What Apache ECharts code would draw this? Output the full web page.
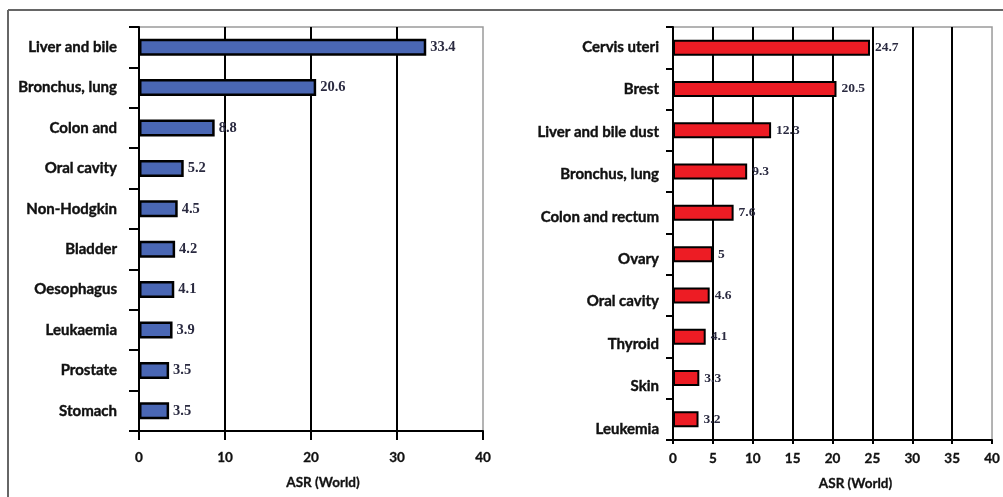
<!DOCTYPE html>
<html>
<head>
<meta charset="utf-8">
<script src="https://cdn.jsdelivr.net/npm/echarts@6/dist/echarts.min.js"></script>
<style>
html,body{margin:0;padding:0;background:#fff;}
#c{width:1003px;height:497px;}
</style>
</head>
<body>
<div id="c"></div>
<script>
const leftCategories = ['Liver and bile','Bronchus, lung','Colon and','Oral cavity','Non-Hodgkin','Bladder','Oesophagus','Leukaemia','Prostate','Stomach'];
const leftValues = [33.4,20.6,8.8,5.2,4.5,4.2,4.1,3.9,3.5,3.5];
const rightCategories = ['Cervis uteri','Brest','Liver and bile dust','Bronchus, lung','Colon and rectum','Ovary','Oral cavity','Thyroid','Skin','Leukemia'];
const rightValues = [24.7,20.5,12.3,9.3,7.6,5,4.6,4.1,3.3,3.2];
const leftAxis = {min:0, max:40, interval:10};
const rightAxis = {min:0, max:40, interval:5};
const axisTitle = 'ASR (World)';

const catFont = {fontFamily:'Lato', fontWeight:'bold', fontSize:15, color:'#111', textBorderColor:'#111', textBorderWidth:0.4};
const tickFont = {fontFamily:'Lato', fontWeight:'bold', fontSize:13.5, color:'#111', textBorderColor:'#111', textBorderWidth:0.3};
const valFont = {fontFamily:'Liberation Serif', fontWeight:'bold', color:'#2a2a40'};

const chart = echarts.init(document.getElementById('c'), null, {renderer:'canvas'});
chart.setOption({
  animation:false,
  backgroundColor:'#fff',
  graphic:[
    {type:'line', shape:{x1:8,y1:10,x2:1003,y2:10}, style:{stroke:'#666',lineWidth:2}},
    {type:'line', shape:{x1:8,y1:10,x2:8,y2:497}, style:{stroke:'#666',lineWidth:2}}
  ],
  grid:[
    {left:139, top:27, width:344, height:404, show:true, borderColor:'#9a9a9a', borderWidth:1.5, backgroundColor:'transparent'},
    {left:673, top:27, width:324, height:413, show:true, borderColor:'#9a9a9a', borderWidth:1.5, backgroundColor:'transparent'},
    {left:673, top:26, width:324, height:424, show:false}
  ],
  xAxis:[
    {gridIndex:0, type:'value', min:leftAxis.min, max:leftAxis.max, interval:leftAxis.interval,
     axisLine:{show:true, lineStyle:{color:'#000', width:2}},
     axisTick:{show:true, length:9, lineStyle:{color:'#000', width:2}},
     axisLabel:Object.assign({margin:20}, tickFont),
     splitLine:{show:true, showMinLine:false, showMaxLine:false, lineStyle:{color:'#000', width:2}},
     name:axisTitle, nameLocation:'middle', nameGap:45,
     nameTextStyle:Object.assign({padding:[0,0,0,24]}, tickFont)},
    {gridIndex:1, type:'value', min:rightAxis.min, max:rightAxis.max, interval:rightAxis.interval,
     axisLine:{show:true, lineStyle:{color:'#000', width:2}},
     axisTick:{show:true, length:4, lineStyle:{color:'#000', width:2}},
     axisLabel:Object.assign({margin:12}, tickFont),
     splitLine:{show:true, showMinLine:false, showMaxLine:false, lineStyle:{color:'#000', width:2}},
     name:axisTitle, nameLocation:'middle', nameGap:37,
     nameTextStyle:Object.assign({padding:[0,0,0,46]}, tickFont)},
    {gridIndex:2, type:'value', show:false, min:0, max:40}
  ],
  yAxis:[
    {gridIndex:0, type:'category', data:leftCategories, inverse:true,
     axisLine:{show:true, lineStyle:{color:'#000', width:2}},
     axisTick:{show:true, length:10, lineStyle:{color:'#000', width:2}},
     axisLabel:Object.assign({margin:22}, catFont)},
    {gridIndex:1, type:'category', data:rightCategories, inverse:true,
     axisLine:{show:true, lineStyle:{color:'#000', width:2}},
     axisTick:{show:true, length:7, lineStyle:{color:'#000', width:2}},
     axisLabel:{show:false}},
    {gridIndex:2, type:'category', data:rightCategories, inverse:true,
     axisLine:{show:false}, axisTick:{show:false},
     axisLabel:Object.assign({margin:14}, catFont)}
  ],
  series:[
    {type:'bar', xAxisIndex:0, yAxisIndex:0, data:leftValues, barWidth:17,
     itemStyle:{color:'#4a67b4', borderColor:'#000', borderWidth:2.5},
     label:Object.assign({show:true, position:'right', distance:4, fontSize:14.5}, valFont)},
    {type:'bar', xAxisIndex:1, yAxisIndex:1, data:rightValues, barWidth:16,
     itemStyle:{color:'#ed1c24', borderColor:'#000', borderWidth:2},
     label:Object.assign({show:true, position:'right', distance:5, fontSize:13.5}, valFont)}
  ]
});
</script>
</body>
</html>
